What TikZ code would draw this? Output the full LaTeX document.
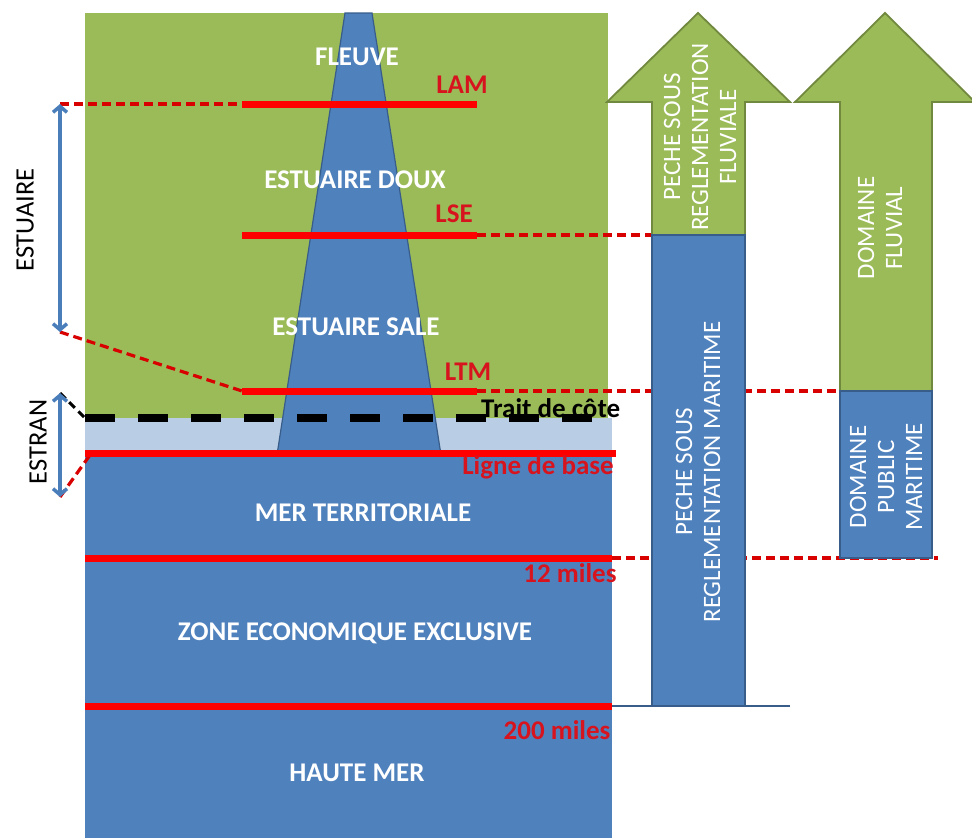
\documentclass[tikz,border=0pt]{standalone}
\usepackage{fontspec}
\setmainfont{Carlito}
\usetikzlibrary{arrows.meta}
\definecolor{ogreen}{RGB}{155,187,89}
\definecolor{ogreendk}{RGB}{113,137,63}
\definecolor{oblue}{RGB}{79,129,189}
\definecolor{obluedk}{RGB}{56,93,138}
\definecolor{olight}{RGB}{185,205,229}
\definecolor{redtxt}{RGB}{215,20,30}
\definecolor{arrblue}{RGB}{74,126,187}
\tikzset{
  zonelabel/.style={text=white,font=\fontsize{27}{31}\selectfont\bfseries,inner sep=0pt},
  redlabel/.style={text=redtxt,font=\fontsize{27}{31}\selectfont\bfseries,inner sep=0pt},
  sidelabel/.style={text=black,font=\fontsize{26.5}{30}\selectfont,inner sep=0pt,rotate=90},
  arrowlabel/.style={text=white,font=\fontsize{25}{28}\selectfont,inner sep=0pt,rotate=90,align=center},
  redline/.style={draw=red,line width=7pt},
  reddash/.style={draw=red!85!black,line width=3.2pt,dash pattern=on 9pt off 5pt},
  measure/.style={draw=arrblue,line width=3.5pt,{Straight Barb[length=6pt,width=14pt]}-{Straight Barb[length=6pt,width=14pt]}},
  greenshape/.style={fill=ogreen,draw=ogreendk,line width=1.8pt},
  blueshape/.style={fill=oblue,draw=obluedk,line width=1.8pt}
}
\begin{document}
\begin{tikzpicture}[x=1pt,y=-1pt]
\useasboundingbox (0,0) rectangle (972,838);
% background zones
\fill[ogreen] (85,13) rectangle (608,418);
\fill[olight] (85,418) rectangle (612,455);
\fill[oblue] (85,455) rectangle (612,838);
% river
\filldraw[fill=oblue,draw=obluedk,line width=1.2pt] (345,13) -- (372,13) -- (441,455) -- (277,455) -- cycle;
% named coordinates
\coordinate (lamL) at (242,104); \coordinate (lamR) at (477,104);
\coordinate (lseL) at (242,235); \coordinate (lseR) at (477,235);
\coordinate (ltmL) at (242,391); \coordinate (ltmR) at (477,391);
\coordinate (baseL) at (85,453); \coordinate (baseR) at (616,453);
\coordinate (m12L) at (85,558); \coordinate (m12R) at (612,558);
\coordinate (m200L) at (85,706); \coordinate (m200R) at (612,706);
\coordinate (estTop) at (60,104); \coordinate (estBot) at (60,332);
\coordinate (strTop) at (60,393); \coordinate (strBot) at (60,497);
\coordinate (coastL) at (85,418); \coordinate (coastR) at (600,418);
\coordinate (baseK) at (90,455);
\coordinate (peche) at (652,235);
\coordinate (domF) at (840,391);
\coordinate (dpmR) at (938,558);
\coordinate (barR) at (790,706);
% dashed red guides
\draw[reddash] (estTop) -- (lamL);
\draw[reddash] (estBot) -- (ltmL);
\draw[reddash] (strBot) -- (baseK);
\draw[reddash] (lseR) -- (peche);
\draw[reddash] (ltmR) -- (domF);
\draw[reddash] (m12R) -- (dpmR);
% coast line
\draw[black,line width=3pt,dash pattern=on 8pt off 5pt] (strTop) -- (coastL);
\draw[black,line width=7.5pt,dash pattern=on 30pt off 23pt] (coastL) -- (coastR);
% red solid lines
\draw[redline] (lamL) -- (lamR);
\draw[redline] (lseL) -- (lseR);
\draw[redline] (ltmL) -- (ltmR);
\draw[redline] (baseL) -- (baseR);
\draw[redline] (m12L) -- (m12R);
\draw[redline] (m200L) -- (m200R);
% measure arrows
\draw[measure] (estTop) -- (estBot);
\draw[measure] (strTop) -- (strBot);
% right arrows
\draw[greenshape] (652,235) -- (652,102) -- (607,102) -- (698,13) -- (790,102) -- (745,102) -- (745,235) -- cycle;
\draw[blueshape] (652,235) rectangle (745,706);
\draw[obluedk,line width=2.2pt] (m200R) -- (barR);
\draw[greenshape] (840,391) -- (840,102) -- (795,102) -- (885,13) -- (975,102) -- (932,102) -- (932,391) -- cycle;
\draw[blueshape] (840,391) rectangle (932,558);
% labels
\node[sidelabel] (tEst) at (25,220) {ESTUAIRE};
\node[sidelabel] (tStr) at (38,442) {ESTRAN};
\node[zonelabel] (tFl) at (357,57) {FLEUVE};
\node[redlabel] (tLam) at (462,85) {LAM};
\node[zonelabel] (tEd) at (355,180) {ESTUAIRE DOUX};
\node[redlabel] (tLse) at (454,214) {LSE};
\node[zonelabel] (tEs) at (356,327) {ESTUAIRE SALE};
\node[redlabel] (tLtm) at (468,372) {LTM};
\node[text=black,font=\fontsize{27}{31}\selectfont\bfseries,inner sep=0pt,anchor=west] (tTc) at (481,408) {Trait de côte};
\node[redlabel] (tLb) at (538,467) {Ligne de base};
\node[zonelabel] (tMt) at (363,513) {MER TERRITORIALE};
\node[redlabel] (t12) at (570,573) {12 miles};
\node[zonelabel] (tZee) at (355,633) {ZONE ECONOMIQUE EXCLUSIVE};
\node[redlabel] (t200) at (557,730) {200 miles};
\node[zonelabel] (tHm) at (357,773) {HAUTE MER};
\node[arrowlabel] (tPf) at (700,137) {PECHE SOUS\\REGLEMENTATION\\FLUVIALE};
\node[arrowlabel] (tPm) at (698,472) {PECHE SOUS\\REGLEMENTATION MARITIME};
\node[arrowlabel] (tDf) at (880,228) {DOMAINE\\FLUVIAL};
\node[arrowlabel] (tDpm) at (886,477) {DOMAINE\\PUBLIC\\MARITIME};
\end{tikzpicture}
\end{document}
